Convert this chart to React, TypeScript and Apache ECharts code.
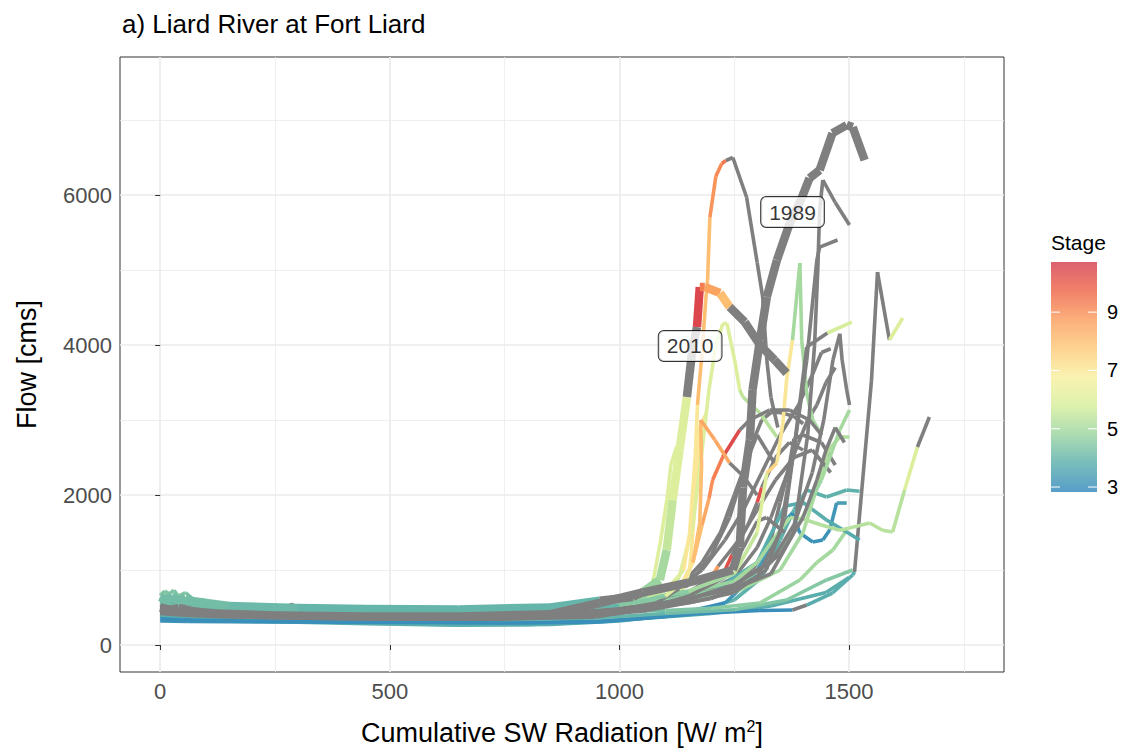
import React, { useEffect, useRef } from 'react';
import * as echarts from 'echarts';

type Pt = [number, number, number | null];
const N = null;

// ---- data: [cumulative SW radiation, flow (cms), stage (null = NA)] ----
const year1989: Pt[] = [[0,500,N],[20,470,N],[40,490,N],[70,450,N],[120,420,N],[250,395,N],[450,380,N],[650,380,N],[850,410,N],[957,560,N],[1051,700,N],[1150,830,N],[1247,1000,N],[1262,1300,N],[1269,2100,N],[1284,2733,N],[1290,3400,N],[1306,4066,N],[1321,4640,N],[1343,5132,N],[1371,5625,N],[1397,5960,N],[1414,6225,N],[1436,6332,N],[1464,6825,N],[1495,6932,N],[1508,6905,N],[1534,6465,N]];
const year2010: Pt[] = [[0,640,4.2],[12,600,4.2],[25,650,4.2],[40,590,4.2],[55,630,4.2],[75,570,4.2],[100,560,4.2],[150,520,4.1],[300,495,4],[450,480,4],[650,475,4],[850,500,4],[957,590,N],[1029,640,N],[1051,707,4.8],[1088,867,5],[1103,1267,5.5],[1116,1933,6],[1131,2600,6],[1147,3306,N],[1158,3893,N],[1169,4240,10.5],[1175,4773,9.3],[1186,4773,8.6],[1219,4693,8],[1240,4507,N],[1273,4306,N],[1306,4000,N],[1338,3800,N],[1364,3626,N]];

const trajA: Pt[] = [[0,600,4],[15,650,4],[30,560,4],[45,620,4],[60,580,4],[90,540,4],[120,510,4],[250,490,4],[450,470,4],[650,460,4],[850,490,4.3],[980,560,4.8],[1060,650,5.5],[1100,720,6],[1140,1000,7],[1153,1500,7],[1165,2500,7],[1170,3200,8],[1180,3900,8],[1188,4600,8],[1192,4866,8],[1197,5700,8.9],[1210,6250,9.1],[1223,6420,9.4],[1232,6460,N],[1247,6500,N],[1277,5970,N],[1300,5100,N],[1312,4640,N],[1321,3800,N],[1330,3300,N],[1345,2900,N]];
const trajB: Pt[] = [[0,540,N],[25,500,N],[50,520,N],[90,470,N],[150,440,N],[300,415,N],[500,400,N],[700,395,N],[900,430,N],[1050,520,N],[1150,620,N],[1250,750,N],[1330,950,N],[1380,1500,N],[1410,2800,N],[1425,4000,N],[1432,5000,N],[1436,5800,N],[1443,6200,N],[1470,5900,N],[1501,5600,N]];
const trajC: Pt[] = [[0,480,N],[40,450,N],[100,420,N],[250,395,N],[450,375,N],[650,365,N],[850,395,N],[1000,460,N],[1150,560,N],[1250,700,N],[1320,1000,N],[1360,1700,N],[1380,2600,N],[1408,3800,N],[1430,5133,N],[1436,5306,N],[1475,5400,N]];
const trajD: Pt[] = [[0,350,3],[30,340,3],[80,330,3],[200,320,3],[400,310,3],[600,305,3],[800,300,3],[957,320,3],[1100,380,3],[1175,420,3],[1306,460,3],[1377,467,N],[1408,533,3.8],[1464,693,3.8],[1508,933,3.8],[1512,973,N],[1549,3532,N],[1562,4972,N],[1588,4066,6],[1617,4360,6]];
const trajE: Pt[] = [[0,660,4.4],[10,720,4.4],[20,680,4.4],[30,730,4.4],[40,650,4.4],[55,700,4.4],[70,620,4.3],[95,600,4.3],[120,550,4.2],[250,510,4],[450,490,4],[650,480,4],[850,505,4.2],[1000,580,4.5],[1150,700,4.8],[1250,850,5],[1300,1100,5],[1340,1450,5.2],[1371,1700,5.2],[1400,1680,5.2],[1440,1600,5.2],[1480,1530,5.3],[1501,1560,5.3],[1545,1626,5.3],[1573,1530,5.3],[1595,1506,5.3],[1621,2066,6],[1649,2640,N],[1675,3040,N]];
const trajF: Pt[] = [[0,400,3.8],[50,370,3.8],[120,340,3.8],[250,310,3.8],[450,285,3.8],[650,265,3.8],[850,275,3.8],[1000,320,3.8],[1150,420,3.9],[1250,600,3.9],[1310,900,3.9],[1350,1400,3.9],[1380,1800,3.9],[1408,2066,3.9],[1451,1973,3.9],[1495,2066,3.9],[1523,2050,3.9]];
const trajG: Pt[] = [[0,320,3.1],[60,315,3.1],[150,310,3.1],[350,305,3],[550,300,3],[750,295,3],[950,305,3],[1100,380,3],[1230,560,3.2],[1290,900,3.3],[1330,1300,3.3],[1360,1650,3.2],[1377,1760,3.1],[1393,1493,3.1],[1421,1373,3.1],[1443,1400,3.1],[1458,1533,3.2],[1473,1893,3.4],[1495,1893,3.4]];
const trajG2: Pt[] = [[0,580,4],[15,620,4],[30,540,4],[50,590,4],[80,520,4],[150,480,4],[300,465,4],[500,455,4],[700,450,4],[900,470,4],[1050,540,4],[1200,700,3.8],[1300,1100,3.8],[1360,1850,3.8],[1400,1900,3.8],[1451,1667,3.7],[1495,1506,3.7],[1523,1400,3.7]];
const trajY5100: Pt[] = [[0,620,4.3],[40,580,4.3],[100,530,4.2],[250,505,4.1],[450,485,4.1],[650,475,4.1],[850,500,4.3],[1000,560,4.6],[1150,720,5],[1250,950,5.5],[1300,1500,6],[1321,2293,7.5],[1343,2426,7],[1356,2960,7],[1364,3533,7],[1377,4066,5],[1393,5092,5],[1397,4066,5],[1408,3360,5],[1421,3000,5],[1440,2800,5]];
const trajY4300: Pt[] = [[0,600,4.5],[15,680,4.5],[30,620,4.5],[45,670,4.5],[60,590,4.4],[90,560,4.3],[120,530,4.2],[250,505,4],[450,485,4],[650,475,4],[850,500,4.2],[1000,600,4.8],[1100,750,5.5],[1130,900,6],[1160,1600,6],[1180,2600,6],[1195,3400,6],[1210,4000,6],[1225,4280,6],[1234,4293,6],[1251,3800,6],[1262,3400,5.5],[1269,3306,5.3],[1306,3093,5.3],[1343,2773,5.3]];
const trajO1: Pt[] = [[0,560,4.2],[40,520,4.2],[100,480,4.1],[250,465,4],[450,450,4],[650,440,4],[850,460,4],[1000,530,4.5],[1100,650,6],[1140,850,7],[1160,1100,8],[1175,1626,8],[1179,2400,8],[1177,3000,8.5],[1208,2733,8.5],[1240,2426,N],[1270,2250,N],[1300,2000,N]];
const trajR1: Pt[] = [[0,460,N],[30,440,N],[80,410,N],[200,385,N],[400,365,N],[600,355,N],[800,365,N],[950,420,N],[1080,560,N],[1130,750,7.5],[1160,1100,8],[1180,1600,8.5],[1195,1950,9],[1203,2200,9.3],[1225,2506,10.4],[1262,2866,N],[1284,3000,N],[1327,3133,N],[1371,3133,N],[1414,3000,N],[1440,2800,N]];
const trajGr2: Pt[] = [[0,510,N],[40,480,N],[100,440,N],[250,410,N],[450,395,N],[650,385,N],[850,410,N],[1000,470,N],[1150,600,N],[1250,800,N],[1330,1100,N],[1380,1600,N],[1420,2300,N],[1445,3000,N],[1465,3800,N],[1480,4150,N],[1485,3800,N],[1495,3400,N],[1501,3200,N]];
const trajLG4270: Pt[] = [[0,450,N],[50,420,N],[120,395,N],[300,370,N],[500,360,N],[700,355,N],[900,380,N],[1050,450,N],[1200,620,N],[1300,900,N],[1350,1500,N],[1380,2600,N],[1408,3973,N],[1453,4160,5.8],[1506,4306,5.8]];
const trajGn3100: Pt[] = [[0,560,4.5],[60,520,4.4],[150,495,4.3],[350,475,4.2],[550,465,4.2],[750,465,4.3],[950,500,4.5],[1100,600,4.6],[1250,780,4.8],[1330,1100,4.8],[1390,1600,4.9],[1440,2200,5],[1480,2866,5],[1501,3133,5]];
const trajGn2770: Pt[] = [[0,530,4.3],[50,500,4.3],[150,475,4.2],[350,455,4.1],[550,445,4.1],[750,445,4.2],[950,470,4.4],[1100,560,4.8],[1250,700,5],[1350,1000,5],[1400,1500,5.1],[1430,2100,5.2],[1455,2600,5.2],[1480,2773,5.2],[1501,2773,5.2]];
const trajGnL1: Pt[] = [[0,520,4],[60,480,4],[150,455,4],[350,440,4],[550,430,4],[750,425,4],[950,440,4.2],[1100,460,4.4],[1200,490,4.6],[1306,560,4.8],[1393,867,5],[1430,1100,5],[1465,1267,5],[1495,1530,5.2]];
const trajGnL2: Pt[] = [[0,440,3.9],[60,410,3.9],[150,385,3.9],[350,365,3.9],[550,350,3.9],[750,340,3.9],[950,360,4],[1100,420,4.2],[1250,470,4.4],[1364,600,4.5],[1451,867,4.5],[1508,1000,4.5]];
const trajTealL3: Pt[] = [[0,380,3.6],[80,350,3.6],[200,330,3.6],[400,300,3.6],[600,275,3.6],[800,270,3.6],[1000,330,3.7],[1200,420,3.8],[1330,520,3.8],[1450,700,3.8],[1500,900,3.8]];
const trajGy1: Pt[] = [[0,490,N],[30,460,N],[80,430,N],[200,400,N],[400,385,N],[600,375,N],[800,385,N],[950,440,N],[1080,560,N],[1150,800,N],[1200,1200,N],[1240,1700,N],[1270,2300,N],[1290,2700,N],[1310,3000,N],[1330,3100,N],[1350,3100,N],[1380,3050,N],[1400,2950,N]];
const trajGy2: Pt[] = [[0,460,N],[40,430,N],[100,405,N],[200,385,N],[284,375,N],[286,560,N],[290,430,N],[450,385,N],[612,365,N],[614,500,N],[617,355,N],[800,365,N],[950,420,N],[1100,650,N],[1180,1000,N],[1230,1400,N],[1270,1800,N],[1310,2300,N],[1350,2800,N],[1390,3200,N],[1420,3600,N],[1440,3900,N],[1460,3950,N]];
const trajGy3: Pt[] = [[0,440,N],[50,410,N],[120,395,N],[300,375,N],[500,365,N],[700,365,N],[900,385,N],[1000,420,N],[1150,600,N],[1250,900,N],[1300,1300,N],[1330,1700,N],[1360,2200,N],[1390,2700,N],[1410,3000,N],[1430,3200,N],[1450,3500,N],[1470,3700,N]];
const trajGy4: Pt[] = [[0,420,N],[60,395,N],[150,375,N],[350,355,N],[550,345,N],[750,345,N],[950,375,N],[1050,480,N],[1120,700,N],[1180,1100,N],[1220,1500,N],[1250,2000,N],[1280,2500,N],[1300,2800,N],[1320,2600,N],[1340,2400,N]];
const trajGy5: Pt[] = [[0,480,N],[40,450,N],[100,420,N],[250,395,N],[450,380,N],[650,375,N],[850,400,N],[1000,450,N],[1100,550,N],[1180,800,N],[1230,1000,10.3],[1245,1200,N],[1280,1600,N],[1300,1900,10.3],[1310,2100,N],[1340,2500,N],[1370,2700,N],[1400,2600,N]];
const trajGy7: Pt[] = [[0,500,N],[50,470,N],[150,435,N],[300,405,N],[500,390,N],[700,385,N],[900,410,N],[1050,500,N],[1150,700,N],[1200,900,8.8],[1215,1050,N],[1260,1400,N],[1300,1800,N],[1340,2200,N],[1380,2500,N],[1420,2600,N],[1460,2300,N]];
const trajGy8: Pt[] = [[0,445,N],[60,415,N],[200,395,N],[400,378,N],[650,370,N],[900,400,N],[1050,480,N],[1200,700,N],[1290,1000,N],[1330,1400,N],[1350,1900,N],[1370,2400,N],[1380,2750,N],[1400,2800,N],[1440,2700,N],[1470,2400,N]];
const trajGy9: Pt[] = [[0,455,N],[60,425,N],[200,400,N],[400,382,N],[650,375,N],[900,405,N],[1100,520,N],[1250,800,N],[1350,1200,N],[1400,1700,N],[1430,2200,N],[1450,2600,N],[1470,2900,N],[1490,2700,N]];
const trajGy10: Pt[] = [[0,430,N],[60,405,N],[200,385,N],[400,365,N],[650,360,N],[900,390,N],[1050,470,N],[1150,650,N],[1230,900,N],[1270,1300,N],[1300,1650,N],[1320,1700,N],[1360,1500,N]];
const trajLY1: Pt[] = [[0,580,4.2],[40,540,4.2],[100,505,4.1],[250,480,4],[450,465,4],[650,455,4],[850,475,4.2],[980,540,4.5],[1040,620,5],[1066,700,5.5],[1075,900,6],[1090,1400,6],[1105,2000,6],[1112,2400,6],[1125,2650,5.5]];
const trajLY2: Pt[] = [[0,520,4.1],[50,490,4.1],[150,465,4],[350,450,4],[550,440,4],[750,440,4],[900,460,4.2],[1000,520,4.6],[1080,620,5.5],[1140,750,6.5],[1153,1000,7],[1160,1500,7],[1168,2200,7],[1175,2900,7],[1190,3100,7]];

const otherYears: Pt[][] = [trajTealL3, trajF, trajG, trajD, trajGnL2, trajGy1, trajGy3, trajGy5, trajGy8, trajGnL1, trajG2, trajGn2770, trajGy2, trajGy4, trajGy7, trajGn3100, trajE, trajLY1, trajLY2, trajGy9, trajGy10, trajY4300, trajY5100, trajGr2, trajLG4270, trajB, trajC, trajR1, trajO1, trajA];
const highlightYears: Pt[][] = [year2010, year1989];

const labelYears = ['1989', '2010'];
const labelX = [1377, 1154];
const labelY = [5773, 3987];

const xTicks = [0, 500, 1000, 1500];
const xMinor = [250, 750, 1250, 1750];
const yTicks = [0, 2000, 4000, 6000];
const yMinor = [1000, 3000, 5000, 7000];
const legendTicks = [3, 5, 7, 9];

const STAGE_MIN = 2.83;
const STAGE_MAX = 10.72;
const stageColors = ['#3288BD', '#5AAEAC', '#99D4A0', '#D6EE9B', '#F8F0A0', '#FDC978', '#FB9D5E', '#EE6548', '#D53E4F'];
const NA_COLOR = '#7F7F7F';
const FONT = '"Liberation Sans", Arial, sans-serif';

function stageColor(s: number): string {
  if (s < 0 || isNaN(s)) return NA_COLOR;
  let t = (s - STAGE_MIN) / (STAGE_MAX - STAGE_MIN);
  t = Math.max(0, Math.min(1, t));
  return echarts.color.lerp(t, stageColors) as string;
}

function toSegments(path: Pt[], width: number): number[][] {
  const out: number[][] = [];
  for (let i = 0; i < path.length - 1; i++) {
    const [x1, y1, s] = path[i];
    const [x2, y2] = path[i + 1];
    out.push([x1, y1, x2, y2, s == null ? -1 : s, width]);
  }
  return out;
}

export default function App() {
  const ref = useRef<HTMLDivElement>(null);
  useEffect(() => {
    if (!ref.current) return;
    const chart = echarts.init(ref.current, undefined, { renderer: 'svg' });
    const segs: number[][] = [];
    otherYears.forEach((p) => segs.push(...toSegments(p, 3.6)));
    highlightYears.forEach((p) => segs.push(...toSegments(p, 8.5)));

    const gridLine = (axis: 'xAxis' | 'yAxis', v: number, major: boolean) => ({
      [axis]: v,
      lineStyle: { color: '#ebebeb', width: major ? 1.7 : 0.8, type: 'solid' },
    });

    // legend geometry
    const barX = 1051, barY = 262, barW = 46, barH = 230;
    const legY = (s: number) => barY + ((STAGE_MAX - s) / (STAGE_MAX - STAGE_MIN)) * barH;
    const gradStops = stageColors.map((c, i) => ({ offset: 1 - i / (stageColors.length - 1), color: c })).reverse();

    const legendEls: any[] = [
      { type: 'text', left: 1051, top: 232, style: { text: 'Stage', fontSize: 21, fill: '#000', fontFamily: FONT } },
      {
        type: 'rect', shape: { x: barX, y: barY, width: barW, height: barH },
        style: { fill: new echarts.graphic.LinearGradient(0, 0, 0, 1, gradStops), opacity: 0.82 },
      },
    ];
    legendTicks.forEach((s) => {
      const y = legY(s);
      legendEls.push({ type: 'line', shape: { x1: barX, y1: y, x2: barX + 9, y2: y }, style: { stroke: '#fff', lineWidth: 1 } });
      legendEls.push({ type: 'line', shape: { x1: barX + barW - 9, y1: y, x2: barX + barW, y2: y }, style: { stroke: '#fff', lineWidth: 1 } });
      legendEls.push({ type: 'text', x: 1107, y: y, style: { text: String(s), fontSize: 20, fill: '#000', fontFamily: FONT, verticalAlign: 'middle', textVerticalAlign: 'middle' } });
    });

    chart.setOption({
      animation: false,
      textStyle: { fontFamily: FONT },
      title: {
        text: 'a) Liard River at Fort Liard', left: 117, top: 6,
        textStyle: { fontSize: 26, fontWeight: 'normal', color: '#000', fontFamily: FONT },
      },
      grid: { left: 120, top: 57, width: 884, height: 615, show: true, borderColor: '#333', borderWidth: 1, backgroundColor: '#fff' },
      xAxis: {
        type: 'value', min: -87.5, max: 1837.5,
        axisLine: { show: false }, splitLine: { show: false },
        axisTick: { show: true, length: 5, lineStyle: { color: '#333' }, customValues: xTicks },
        axisLabel: { customValues: xTicks, color: '#4d4d4d', fontSize: 22, margin: 8, fontFamily: FONT, formatter: (v: number) => String(v) },
        name: 'Cumulative SW Radiation [W/ m{sup|2}]', nameLocation: 'middle', nameGap: 46,
        nameTextStyle: { fontSize: 27, color: '#000', fontFamily: FONT, rich: { sup: { fontSize: 16, verticalAlign: 'top', lineHeight: 30, fontFamily: FONT } } },
      },
      yAxis: {
        type: 'value', min: -360, max: 7840,
        axisLine: { show: false }, splitLine: { show: false },
        axisTick: { show: true, length: 5, lineStyle: { color: '#333' }, customValues: yTicks },
        axisLabel: { customValues: yTicks, color: '#4d4d4d', fontSize: 22, margin: 8, fontFamily: FONT, formatter: (v: number) => String(v) },
        name: 'Flow [cms]', nameLocation: 'middle', nameGap: 80,
        nameTextStyle: { fontSize: 27, color: '#000', fontFamily: FONT },
      },
      graphic: legendEls,
      series: [
        {
          type: 'line', data: [], z: 0, silent: true,
          markLine: {
            z: 0, silent: true, symbol: ['none', 'none'], label: { show: false }, animation: false,
            data: [
              ...xMinor.map((v) => gridLine('xAxis', v, false)),
              ...yMinor.map((v) => gridLine('yAxis', v, false)),
              ...xTicks.map((v) => gridLine('xAxis', v, true)),
              ...yTicks.map((v) => gridLine('yAxis', v, true)),
            ],
          },
        },
        {
          type: 'custom', z: 3, clip: true, silent: true,
          data: segs,
          encode: { x: [0, 2], y: [1, 3] },
          renderItem: (params: any, api: any) => {
            const p1 = api.coord([api.value(0), api.value(1)]);
            const p2 = api.coord([api.value(2), api.value(3)]);
            return {
              type: 'line',
              shape: { x1: p1[0], y1: p1[1], x2: p2[0], y2: p2[1] },
              style: { stroke: stageColor(api.value(4)), lineWidth: api.value(5), lineCap: 'butt' },
            };
          },
        },
        {
          type: 'scatter', z: 6, silent: true, symbolSize: 0,
          data: labelYears.map((n, i) => ({ name: n, value: [labelX[i], labelY[i]] })),
          label: {
            show: true, position: 'inside', formatter: '{b}', fontSize: 21, color: '#000', fontFamily: FONT,
            backgroundColor: '#fff', borderColor: '#000', borderWidth: 1, borderRadius: 5, padding: [5, 8, 4, 8],
          },
        },
      ],
    });
    return () => chart.dispose();
  }, []);
  return <div ref={ref} style={{ position: 'fixed', left: 0, top: 0, width: 1124, height: 754, background: '#fff' }} />;
}
